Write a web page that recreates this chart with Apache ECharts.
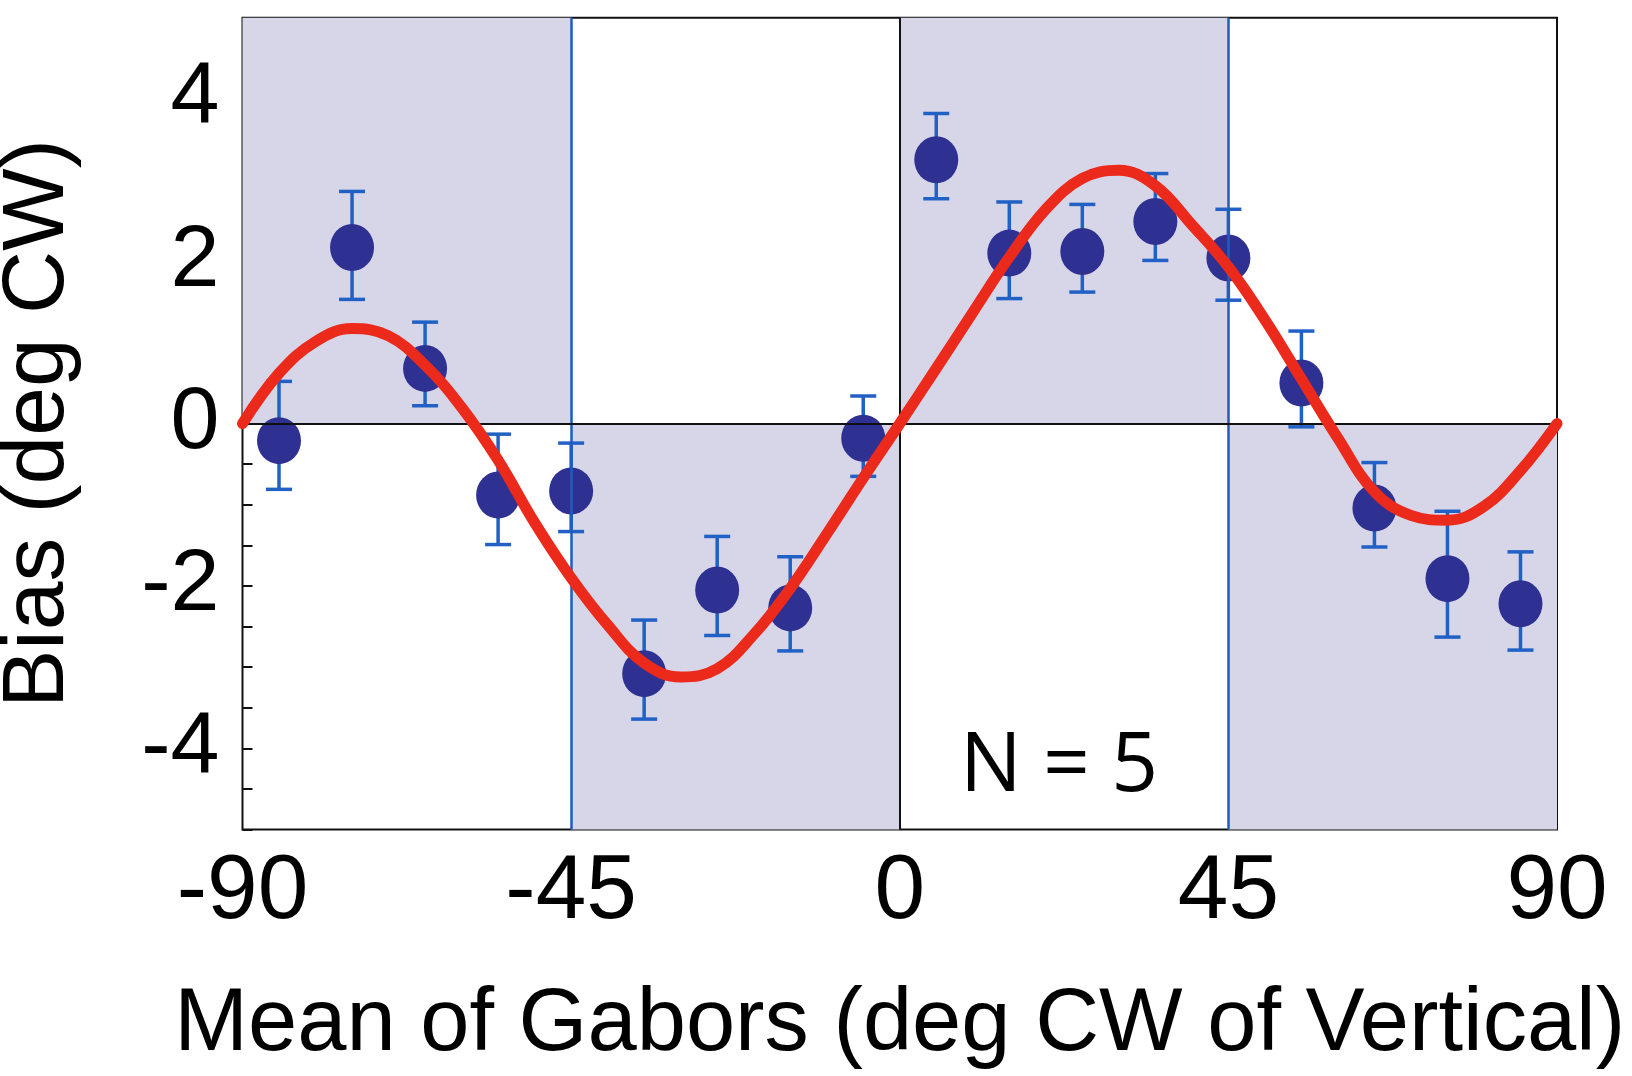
<!DOCTYPE html>
<html>
<head>
<meta charset="utf-8">
<script src="https://cdn.jsdelivr.net/npm/echarts@6/dist/echarts.min.js"></script>
<style>
html,body{margin:0;padding:0;background:#fff;}
#chart{width:1632px;height:1076px;}
</style>
</head>
<body>
<div id="chart"></div>
<script>
// ---- data ----
const orientations = [-85,-75,-65,-55,-45,-35,-25,-15,-5,5,15,25,35,45,55,65,75,85];
const biasMean  = [-0.21, 2.17, 0.68,-0.88,-0.83,-3.08,-2.05,-2.27,-0.18, 3.25, 2.10, 2.12, 2.49, 2.04, 0.50,-1.04,-1.91,-2.22];
const biasUpper = [ 0.52, 2.86, 1.25,-0.13,-0.24,-2.42,-1.39,-1.64, 0.34, 3.82, 2.73, 2.70, 3.08, 2.64, 1.14,-0.48,-1.08,-1.58];
const biasLower = [-0.81, 1.53, 0.22,-1.49,-1.33,-3.64,-2.61,-2.80,-0.65, 2.77, 1.54, 1.62, 2.01, 1.52,-0.04,-1.52,-2.63,-2.79];

const fitX = [-90,-85,-80,-75,-70,-65,-60,-55,-50,-45,-40,-35,-30,-25,-20,-15,-10,-5,0,5,10,15,20,25,30,35,40,45,50,55,60,65,70,75,80,85,90];
const fitY = [0,0.62,1.01,1.17,1.08,0.72,0.20,-0.45,-1.22,-1.90,-2.48,-2.95,-3.12,-3.02,-2.60,-2.03,-1.36,-0.67,0,0.68,1.37,2.05,2.64,3.02,3.12,2.93,2.45,1.93,1.28,0.55,-0.18,-0.84,-1.13,-1.19,-1.02,-0.58,0];

const xTickLabels = ['-90','-45','0','45','90'];
const yTickLabels = ['-4','-2','0','2','4'];
const annotation = 'N = 5';

// shaded quadrants: [x0, y0, x1, y1]
const shadedRegions = [[-90,0,-45,5],[-45,-5,0,0],[0,0,45,5],[45,-5,90,0]];
const blueLinesX = [-45,45];

const pointData = orientations.map((x,i)=>[x,biasMean[i]]);
const errData = orientations.map((x,i)=>[x,biasLower[i],biasUpper[i]]);
const fitData = fitX.map((x,i)=>[x,fitY[i]]);

const chart = echarts.init(document.getElementById('chart'), null, {renderer:'canvas'});
const font = 'Liberation Sans, Arial, Helvetica, sans-serif';

const option = {
  backgroundColor:'#ffffff',
  animation:false,
  grid:{left:242.5,right:75,top:17.7,bottom:246.5,show:true,borderColor:'#111111',borderWidth:2,
        backgroundColor:'#ffffff',containLabel:false,outerBoundsMode:'none'},
  xAxis:{
    type:'value',min:-90,max:90,interval:45,
    axisLine:{show:false,onZero:false},axisTick:{show:false},splitLine:{show:false},
    axisLabel:{
      margin:18,fontSize:91,color:'#000',fontFamily:font,
      formatter:v=>{const s=String(Math.round(v));return xTickLabels.includes(s)?s:'';}
    },
    name:'Mean of Gabors (deg CW of Vertical)',nameLocation:'middle',nameGap:152,
    nameTextStyle:{fontSize:88.5,color:'#000',fontFamily:font}
  },
  yAxis:{
    type:'value',min:-5,max:5,interval:0.5,
    axisLine:{show:false,onZero:false},
    axisTick:{show:true,inside:true,length:10,lineStyle:{color:'#111',width:2}},
    splitLine:{show:false},
    axisLabel:{
      margin:23,fontSize:88,color:'#000',fontFamily:font,padding:[0,0,14,0],
      formatter:v=>{const s=String(Math.round(v*100)/100);return yTickLabels.includes(s)?s:'';}
    },
    name:'Bias (deg CW)',nameLocation:'middle',nameGap:160,
    nameTextStyle:{fontSize:87.5,color:'#000',fontFamily:font}
  },
  series:[
    {
      type:'line',data:[],silent:true,
      markArea:{
        silent:true,
        itemStyle:{color:'#d6d6e8'},
        data:shadedRegions.map(r=>[{coord:[r[0],r[1]]},{coord:[r[2],r[3]]}])
      },
      markLine:{
        silent:true,symbol:['none','none'],label:{show:false},
        data:[
          ...blueLinesX.map(x=>({xAxis:x,lineStyle:{color:'#1f5cbc',width:2.5,type:'solid'}})),
          {xAxis:0,lineStyle:{color:'#111111',width:2,type:'solid'}},
          {yAxis:0,lineStyle:{color:'#111111',width:2,type:'solid'}}
        ]
      },
      z:1
    },
    {
      type:'custom',name:'error',data:errData,z:3,
      renderItem:(params,api)=>{
        const x=api.value(0),lo=api.value(1),hi=api.value(2);
        const pHi=api.coord([x,hi]),pLo=api.coord([x,lo]);
        const hw=13;
        const st={stroke:'#2160c4',lineWidth:3.5};
        return {type:'group',children:[
          {type:'line',shape:{x1:pHi[0],y1:pHi[1],x2:pLo[0],y2:pLo[1]},style:st},
          {type:'line',shape:{x1:pHi[0]-hw,y1:pHi[1],x2:pHi[0]+hw,y2:pHi[1]},style:st},
          {type:'line',shape:{x1:pLo[0]-hw,y1:pLo[1],x2:pLo[0]+hw,y2:pLo[1]},style:st}
        ]};
      }
    },
    {
      type:'scatter',name:'bias',data:pointData,z:4,
      symbol:'circle',symbolSize:[44,47],
      itemStyle:{color:'#2e3192',opacity:1}
    },
    {
      type:'line',name:'fit',data:fitData,z:5,smooth:0.4,showSymbol:false,
      lineStyle:{color:'#ec2a1c',width:11,cap:'round',join:'round'},
    }
  ],
  graphic:[
    {type:'text',left:960,top:727,z:10,
     style:{text:annotation,fontSize:82,fontFamily:'Open Sans, Noto Sans, sans-serif',fill:'#000'}}
  ]
};
chart.setOption(option);
</script>
</body>
</html>
